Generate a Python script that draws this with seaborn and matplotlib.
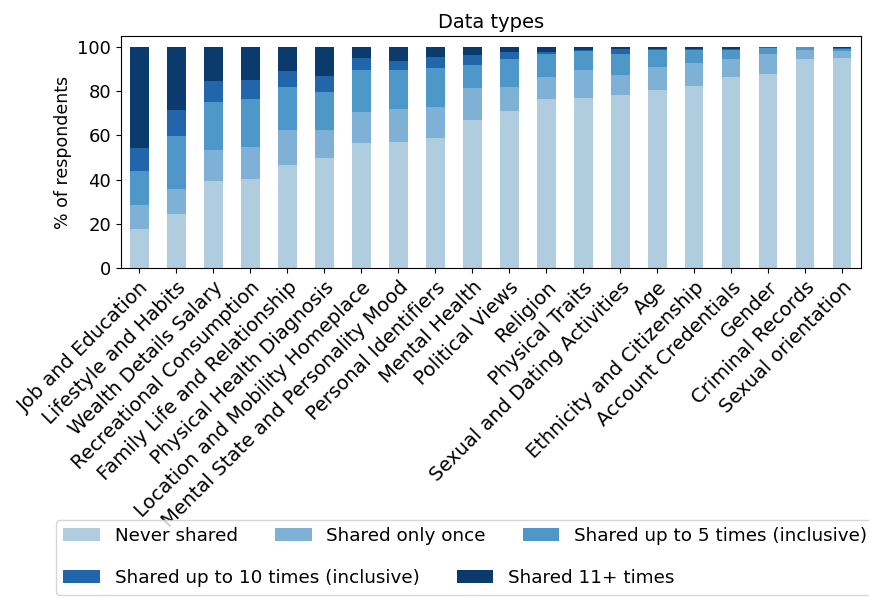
import numpy as np
import pandas as pd
import seaborn as sns
import matplotlib.pyplot as plt
from matplotlib.patches import Patch

categories = [
    "Job and Education", "Lifestyle and Habits", "Wealth Details Salary",
    "Recreational Consumption", "Family Life and Relationship",
    "Physical Health Diagnosis", "Location and Mobility Homeplace",
    "Mental State and Personality Mood", "Personal Identifiers", "Mental Health",
    "Political Views", "Religion", "Physical Traits", "Sexual and Dating Activities",
    "Age", "Ethnicity and Citizenship", "Account Credentials", "Gender",
    "Criminal Records", "Sexual orientation",
]

# % of respondents per sharing frequency
never_shared = [17.7, 24.5, 39.4, 40.3, 46.6, 49.8, 56.5, 57.0, 58.8, 66.9,
                71.0, 76.4, 76.8, 78.2, 80.5, 82.3, 86.3, 87.7, 94.4, 94.9]
shared_once = [10.9, 11.3, 14.0, 14.4, 15.8, 12.6, 14.0, 14.9, 14.0, 14.5,
               10.8, 9.9, 12.7, 9.0, 10.3, 10.3, 8.1, 9.0, 4.1, 3.1]
shared_5 = [15.3, 23.9, 21.6, 21.7, 19.4, 17.1, 19.0, 17.6, 17.6, 10.3,
            12.6, 10.4, 8.5, 9.5, 7.7, 5.9, 4.1, 2.8, 1.5, 1.2]
shared_10 = [10.4, 11.7, 9.5, 8.6, 7.2, 7.3, 5.4, 4.0, 4.9, 4.5,
             3.2, 0.9, 0.8, 2.2, 0.7, 0.6, 0.6, 0.3, 0.0, 0.5]
shared_11 = [45.7, 28.6, 15.5, 15.0, 11.0, 13.2, 5.1, 6.5, 4.7, 3.8,
             2.4, 2.4, 1.2, 1.1, 0.8, 0.9, 0.9, 0.2, 0.0, 0.3]

series_names = ["Never shared", "Shared only once", "Shared up to 5 times (inclusive)",
                "Shared up to 10 times (inclusive)", "Shared 11+ times"]
series_values = [never_shared, shared_once, shared_5, shared_10, shared_11]
colors = ["#b0cde0", "#7fb0d6", "#4d97c9", "#2166ab", "#0b3b6d"]

fig, ax = plt.subplots(figsize=(8.7, 5.99), dpi=100)

bottom = np.zeros(len(categories))
for name, vals, col in zip(series_names, series_values, colors):
    sns.barplot(x=categories, y=vals, bottom=bottom, color=col, width=0.5,
                ax=ax, saturation=1, linewidth=0, edgecolor="none")
    bottom = bottom + np.array(vals)

ax.set_xlim(-0.5, len(categories) - 0.5)
ax.set_ylim(0, 105)
ax.set_yticks([0, 20, 40, 60, 80, 100])
ax.set_title("Data types", fontsize=14)
ax.set_ylabel("% of respondents", fontsize=12.5)
ax.set_xlabel("")
ax.tick_params(axis="y", labelsize=13)
ax.tick_params(axis="x", labelsize=14)
plt.setp(ax.get_xticklabels(), rotation=45, ha="right", rotation_mode="anchor")

plt.subplots_adjust(left=0.139, right=0.9893, top=0.94, bottom=0.5526)

# legend: first row in a framed box, second row packed on its own
handles = [Patch(facecolor=c, edgecolor="none") for c in colors]
blank = Patch(facecolor="none", edgecolor="none")
leg_kw = dict(fontsize=13.25, labelspacing=1.3, borderaxespad=0,
              bbox_transform=fig.transFigure)
leg1 = fig.legend([handles[0], blank, handles[1], blank, handles[2], blank],
                  [series_names[0], "", series_names[1], "", series_names[2], ""],
                  ncol=3, loc="upper left", bbox_to_anchor=(0.0644, 0.1319),
                  frameon=True, **leg_kw)
fig.canvas.draw()
bb = leg1.get_window_extent().transformed(fig.transFigure.inverted())
fig.legend(handles[3:], series_names[3:], ncol=2, loc="lower left",
           bbox_to_anchor=(bb.x0, bb.y0), frameon=False, **leg_kw)

plt.savefig("out.png", dpi=100)
